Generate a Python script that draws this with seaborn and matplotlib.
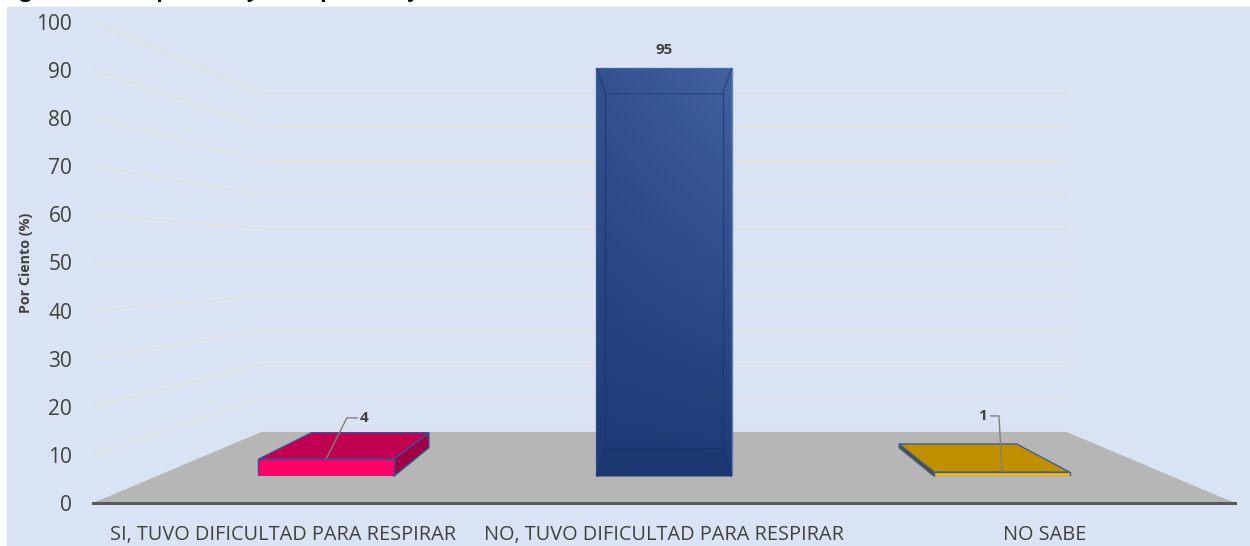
#!/usr/bin/env python3
"""
Bar chart with a fake 3D floor and wall: share of people who had trouble breathing.
"""
import numpy as np
import pandas as pd
import matplotlib
matplotlib.use("Agg")
import matplotlib.pyplot as plt
from matplotlib.patches import Polygon
import seaborn as sns

categories = ["SI, TUVO DIFICULTAD PARA RESPIRAR", "NO, TUVO DIFICULTAD PARA RESPIRAR", "NO SABE"]
values = [4, 95, 1]
y_ticks = [0, 10, 20, 30, 40, 50, 60, 70, 80, 90, 100]
y_label = "Por Ciento (%)"
title = "Figura 10.1 Respiración y la respuestas y"

W, H = 1250, 546
BG = "#dae3f3"
INK = "#404040"
front_cols = ["#ff0066", "#2f4d8f", "#ffc000"]
top_cols = ["#c00050", "#2f4d8f", "#c09000"]
side_cols = ["#a00045", "#2f4d8f", "#5e4a10"]
edge_cols = ["#3d4f92", "#3f5fa5", "#3d5f96"]

# perspective: scale of each depth plane around the vanishing point
S_FRONT, S_BACK, S_WALL = 0.893, 0.777, 0.705
VX, VY, VY_WALL = 1.0, 51.56, 50.1
X_TRIM = 0.005
HALF = 0.2


def proj(x, y, s, vy=VY, trim=X_TRIM):
    return (VX + (x - VX) * (s - trim), vy + (y - vy) * s)


def px_axes(left, top, right, bottom):
    return [left / W, 1 - bottom / H, (right - left) / W, (bottom - top) / H]


sns.set_theme(style="white")
plt.rcParams["font.family"] = ["Open Sans", "DejaVu Sans"]

fig = plt.figure(figsize=(W / 100, H / 100), dpi=100, facecolor="white")
fig.patches.append(plt.Rectangle((7 / W, 0), 1 - 7 / W, 1 - 7 / H, transform=fig.transFigure, color=BG, zorder=-5))
# the title is cut by the top of the picture, only the tails of the letters show
fig.text(2 / W, 1 + 2.5 / H, title, fontsize=15, fontweight="bold", color="black", va="baseline", ha="left")

# main plane, where the ticks are
ax = fig.add_axes(px_axes(93, 22, 1235, 503))
ax.patch.set_alpha(0)
ax.set_xlim(-0.5, 2.5)
ax.set_ylim(0, 100)
sns.despine(ax=ax, left=True, top=True, right=True)
ax.spines["bottom"].set_color("#595959")
ax.spines["bottom"].set_linewidth(2.2)
ax.set_xticks(range(len(categories)))
ax.set_xticklabels(categories, fontsize=14.3, color=INK)
ax.set_yticks(y_ticks)
ax.set_yticklabels([str(t) for t in y_ticks], fontsize=15, color=INK)
ax.tick_params(axis="x", length=0, pad=16)
ax.tick_params(axis="y", length=0, pad=15)
ax.set_ylabel(y_label, fontsize=10.3, fontweight="bold", color=INK)
ax.yaxis.set_label_coords(-60 / 1142, 0.5)

# floor and wall lines
ax.add_patch(Polygon([(-0.5, 0), (2.5, 0), proj(2.5, 0, S_WALL, VY_WALL, 0), proj(-0.5, 0, S_WALL, VY_WALL, 0)],
                     closed=True, fc="#b6b6b6", ec="none", zorder=1))
for t in y_ticks[1:]:
    a = proj(-0.5, t, S_WALL, VY_WALL, 0)
    b = proj(2.5, t, S_WALL, VY_WALL, 0)
    ax.plot([-0.5, a[0], b[0]], [t, a[1], b[1]], color="#e2dfd6", lw=0.8, zorder=0.5)

# back, top and side faces
inner_lines = []
for i, v in enumerate(values):
    l, r = i - HALF, i + HALF
    ec = edge_cols[i]
    fl0, fr0 = proj(l, 0, S_FRONT), proj(r, 0, S_FRONT)
    flv, frv = proj(l, v, S_FRONT), proj(r, v, S_FRONT)
    bl0, br0 = proj(l, 0, S_BACK), proj(r, 0, S_BACK)
    blv, brv = proj(l, v, S_BACK), proj(r, v, S_BACK)
    if i == 1:
        # see-through bar, so the inner edges show
        for poly, c in [([fl0, fr0, br0, bl0], "#142c62"), ([bl0, br0, brv, blv], "#1c3a78"),
                        ([fl0, flv, blv, bl0], "#1c3a78"), ([fr0, frv, brv, br0], "#1c3a78"),
                        ([flv, frv, brv, blv], "#1c3a78")]:
            ax.add_patch(Polygon(poly, closed=True, fc=c, ec="none", zorder=2))
        inner_lines = [[bl0, br0, brv, blv, bl0], [fl0, bl0], [fr0, br0], [flv, blv], [frv, brv]]
    else:
        side = [fr0, frv, brv, br0] if i == 0 else [fl0, flv, blv, bl0]
        ax.add_patch(Polygon(side, closed=True, fc=side_cols[i], ec=ec, lw=1, zorder=2))
        ax.add_patch(Polygon([flv, frv, brv, blv], closed=True, fc=top_cols[i], ec=ec, lw=1, zorder=2.1))

# front faces go on an axes placed at the depth of the bar fronts
x0, x1 = 93, 1235
vx_px = 664.0
vy_px = 255.0
sx = S_FRONT - X_TRIM
front_pos = px_axes(vx_px + (x0 - vx_px) * sx, vy_px + (22 - vy_px) * S_FRONT,
                    vx_px + (x1 - vx_px) * sx, vy_px + (503 - vy_px) * S_FRONT)
ax_f = fig.add_axes(front_pos)
ax_f.patch.set_alpha(0)
df = pd.DataFrame({"cat": categories, "val": values})
sns.barplot(data=df, x="cat", y="val", hue="cat", palette=front_cols, legend=False, width=HALF * 2,
            ax=ax_f, saturation=1, edgecolor="none")
ax_f.axis("off")
for patch, ec in zip(ax_f.patches, edge_cols):
    patch.set_edgecolor(ec)
    patch.set_linewidth(1)

# gradient + transparency on the tall bar
bar = ax_f.patches[1]
bx, by, bw, bh = bar.get_x(), bar.get_y(), bar.get_width(), bar.get_height()
u, w = np.meshgrid(np.linspace(0, 1, 60), np.linspace(0, 1, 200))
g = 0.6 * w + 0.4 * u * w
grad = np.zeros(g.shape + (4,))
grad[..., 0] = 0.12 + 0.17 * g
grad[..., 1] = 0.23 + 0.19 * g
grad[..., 2] = 0.46 + 0.20 * g
grad[..., 3] = 0.82
bar.set_facecolor("none")
bar.set_edgecolor("#5f7db8")
im = ax_f.imshow(grad, extent=(bx, bx + bw, by, by + bh), origin="lower", aspect="auto", zorder=3)
im.set_clip_path(bar)
for pts in inner_lines:
    ax_f.plot([p[0] for p in pts], [p[1] for p in pts], color="#14306e", lw=1, alpha=0.55,
              transform=ax.transData, zorder=4, clip_on=False)
ax_f.set_xlim(-0.5, 2.5)
ax_f.set_ylim(0, 100)

# value labels and their leader lines
ax.text(1, 94.2, "95", fontsize=11, fontweight="bold", color=INK, ha="center", va="center", zorder=5, clip_on=False)

a = proj(0, 4, S_FRONT)
ax.plot([a[0], a[0] + 0.055, a[0] + 0.083], [a[1], 17.7, 17.7], color="#7f7f7f", lw=1, zorder=5)
ax.text(a[0] + 0.10, 17.7, "4", fontsize=11, fontweight="bold", color=INK, ha="center", va="center", zorder=5)

a = proj(2, 1, S_FRONT)
ax.plot([a[0], a[0] - 0.008, a[0] - 0.03], [a[1], 18.1, 18.1], color="#7f7f7f", lw=1, zorder=5)
ax.text(a[0] - 0.05, 18.1, "1", fontsize=11, fontweight="bold", color=INK, ha="center", va="center", zorder=5)

plt.savefig("out.png", dpi=100, facecolor="white")
